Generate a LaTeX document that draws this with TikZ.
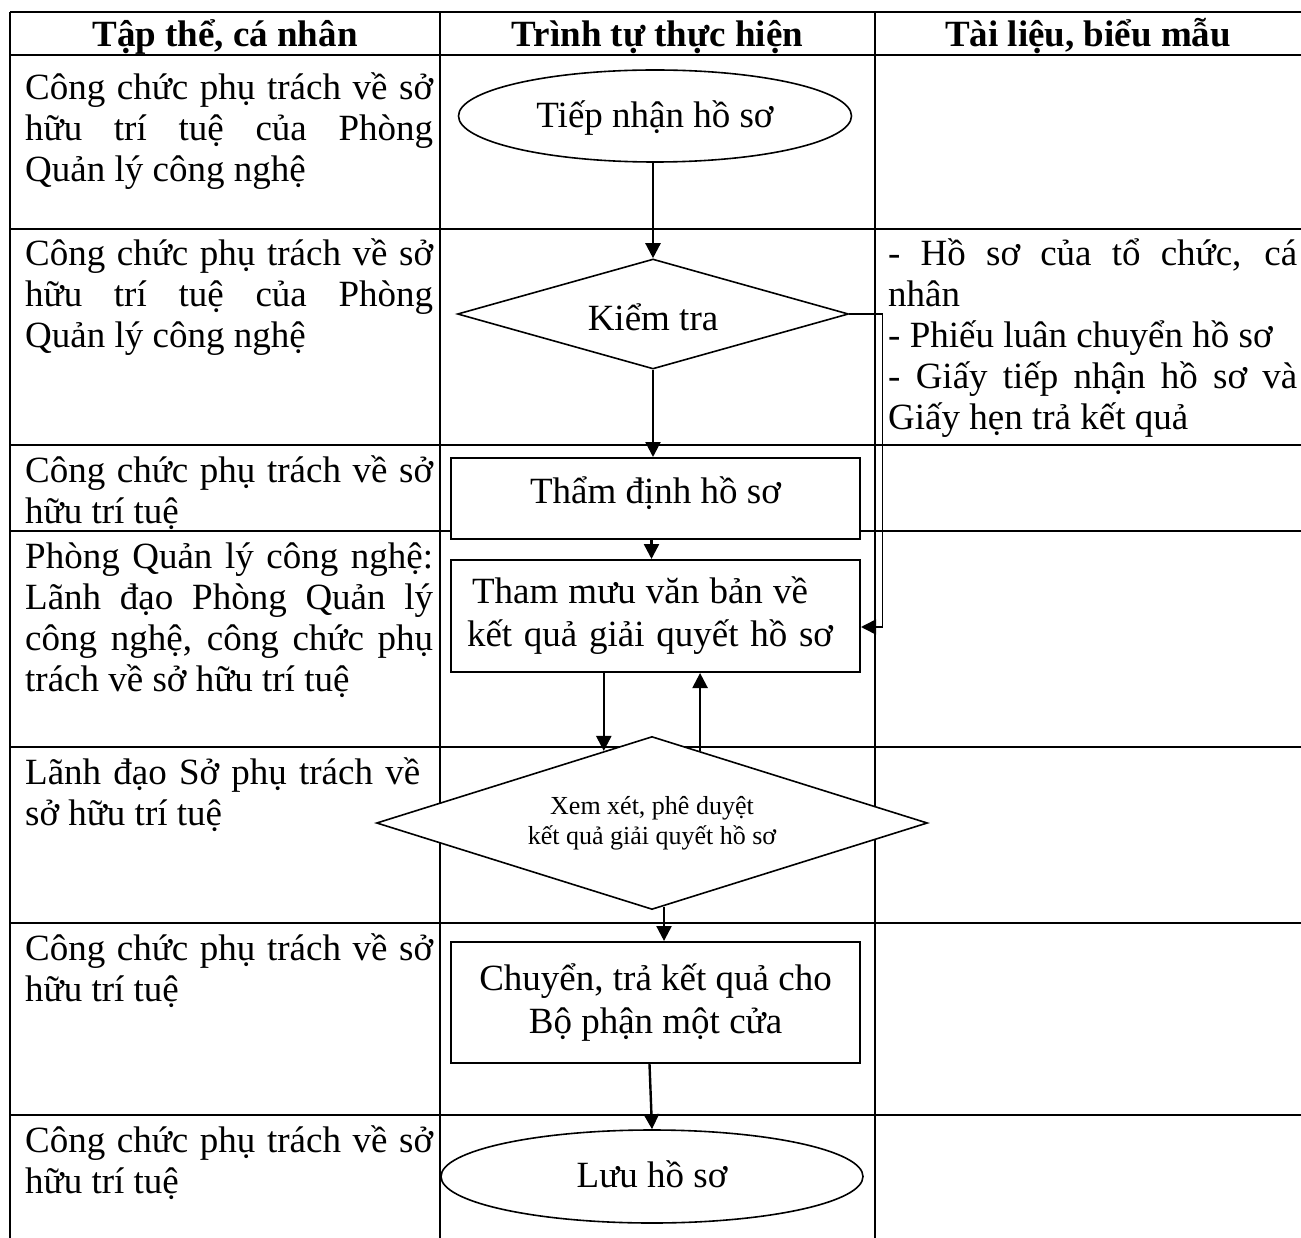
\documentclass[tikz,border=0pt]{standalone}
\usepackage{fontspec}
\setmainfont{Liberation Serif}
\usetikzlibrary{shapes.geometric,arrows.meta,calc}
% a line of justified text, stretched to the full cell width
\newcommand{\fullline}[2][408pt]{\makebox[#1][s]{#2}}
\begin{document}
\begin{tikzpicture}[x=1pt,y=-1pt,
  rule/.style={line width=2pt},
  cell/.style={anchor=base west,inner sep=0pt,font=\fontsize{37}{41}\selectfont,
               execute at begin node={\spaceskip=0pt\xspaceskip=0pt}},
  role/.style={cell,text width=408pt},
  docs/.style={cell,text width=409pt},
  head/.style={anchor=base,inner sep=0pt,font=\fontsize{37}{41}\selectfont\bfseries},
  flow/.style={draw=black,fill=white,line width=1.6pt,inner sep=0pt,align=center,
               font=\fontsize{37}{43}\selectfont},
  terminal/.style={flow,ellipse},
  stepbox/.style={flow,rectangle,line width=2pt},
  decision/.style={flow,diamond},
  arr/.style={line width=2.4pt,-{Triangle[length=15pt,width=15pt]}},
  loop/.style={line width=1.6pt,-{Triangle[length=15pt,width=15pt]}}
]
\useasboundingbox (0,0) rectangle (1301,1238);

% table grid
\foreach \y in {12,55,229,445,531,747,923,1115}
  \draw[rule] (10,\y) -- (1301,\y);
\foreach \x in {10,440,875}
  \draw[rule] (\x,12) -- (\x,1238);

% header
\node[head] (h1) at (225,46.5) {Tập thể, cá nhân};
\node[head] (h2) at (657.5,46.5) {Trình tự thực hiện};
\node[head] (h3) at (1088,46.5) {Tài liệu, biểu mẫu};

% first column: who is in charge
\node[role] (r1) at (25,100) {\fullline{Công chức phụ trách về sở}\\\fullline{hữu trí tuệ của Phòng}\\Quản lý công nghệ};
\node[role] (r2) at (25,266) {\fullline{Công chức phụ trách về sở}\\\fullline{hữu trí tuệ của Phòng}\\Quản lý công nghệ};
\node[role] (r3) at (25,482) {\fullline{Công chức phụ trách về sở}\\hữu trí tuệ};
\node[role] (r4) at (25,568) {\fullline{Phòng Quản lý công nghệ:}\\\fullline{Lãnh đạo Phòng Quản lý}\\\fullline{công nghệ, công chức phụ}\\trách về sở hữu trí tuệ};
\node[role] (r5) at (25,784) {\fullline[395pt]{Lãnh đạo Sở phụ trách về}\\sở hữu trí tuệ};
\node[role] (r6) at (25,960) {\fullline{Công chức phụ trách về sở}\\hữu trí tuệ};
\node[role] (r7) at (25,1152) {\fullline{Công chức phụ trách về sở}\\hữu trí tuệ};

% third column: documents and forms
\node[docs] (d2) at (888,266) {\fullline[409pt]{- Hồ sơ của tổ chức, cá}\\nhân\\- Phiếu luân chuyển hồ sơ\\\fullline[409pt]{- Giấy tiếp nhận hồ sơ và}\\Giấy hẹn trả kết quả};

% second column: the procedure
\node[terminal,minimum width=393pt,minimum height=92pt,text height=34pt,text depth=10pt] (tn) at (655,116) {Tiếp nhận hồ sơ};
\node[decision,shape aspect=3.5,minimum width=391pt,minimum height=110pt,text height=44pt,text depth=10pt] (kt) at (653,314) {Kiểm tra};
\node[stepbox,minimum width=409pt,minimum height=81pt,text height=19pt,text depth=10pt] (td) at (655.5,498.5) {Thẩm định hồ sơ};
\node[stepbox,minimum width=409pt,minimum height=112pt,align=left] (tm) at (655.5,616) {\hspace*{5pt}\makebox[336pt][s]{Tham mưu văn bản về}\\\makebox[366pt][s]{kết quả giải quyết hồ sơ}\hspace*{11pt}};
\node[decision,shape aspect=3.2,minimum width=551pt,minimum height=173pt,font=\fontsize{26}{30}\selectfont] (xx) at (652,823) {Xem xét, phê duyệt\\kết quả giải quyết hồ sơ};
\node[stepbox,minimum width=409pt,minimum height=121pt] (ch) at (655.5,1002.5) {Chuyển, trả kết quả cho\\Bộ phận một cửa};
\node[terminal,minimum width=422pt,minimum height=93pt,text height=31pt,text depth=10pt] (lu) at (652,1176.5) {Lưu hồ sơ};

% points where the connectors meet the approval diamond
\coordinate (dnin) at ($(xx.north)!0.1745!(xx.west)$);
\coordinate (upout) at ($(xx.north)!0.174!(xx.east)$);
\coordinate (xxout) at ($(xx.south)!0.0435!(xx.east)$);

% connectors
\draw[arr] (kt.north |- tn.south) -- (kt.north);
\draw[arr] (kt.south) -- (kt.south |- td.north);
\draw[arr] ([xshift=-4pt]td.south) -- ([xshift=-4pt]tm.north);
\draw[loop] (kt.east) -- ++(33,0) |- ([yshift=-11pt]tm.east);
\draw[arr] (dnin |- tm.south) -- (dnin);
\draw[arr] (upout) -- (upout |- tm.south);
\draw[arr] (xxout) -- (xxout |- ch.north);
\draw[arr] ([xshift=-6pt]ch.south) -- (lu.north);
\end{tikzpicture}
\end{document}
